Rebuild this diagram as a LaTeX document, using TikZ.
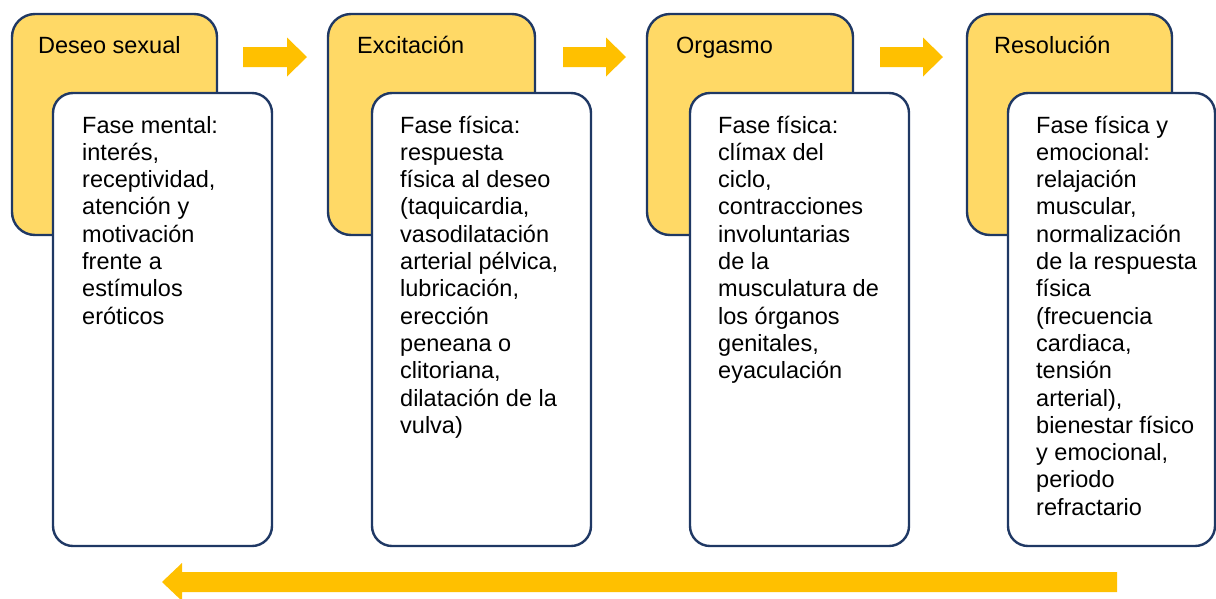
\documentclass[tikz,border=0pt]{standalone}
\usepackage{fontspec}
\setmainfont{Liberation Sans}
\definecolor{ylw}{HTML}{FFD966}
\definecolor{navy}{HTML}{1F3864}
\definecolor{arr}{HTML}{FFC000}
\newcommand{\boxfont}{\fontsize{23.5}{27.3}\selectfont}
\tikzset{
  ybox/.style={draw=navy, line width=2.4pt, fill=ylw, rounded corners=23pt, inner sep=0pt},
  wbox/.style={draw=navy, line width=2.4pt, fill=white, rounded corners=20pt, inner sep=0pt, minimum height=453pt},
  ttl/.style={anchor=base west, inner sep=0pt, font=\boxfont},
  txt/.style={anchor=base west, inner sep=0pt},
  blockarrow/.style={fill=arr, draw=none}
}
\newcommand{\txtpar}[1]{\parbox[t]{215pt}{\boxfont\raggedright #1}}
\begin{document}
\begin{tikzpicture}[x=1pt,y=-1pt]
\useasboundingbox (0,0) rectangle (1216,598);
% yellow boxes
\node[ybox, minimum width=205pt, minimum height=221pt] (y1) at (114.5,124.5) {};
\node[ybox, minimum width=207pt, minimum height=221pt] (y2) at (431.5,124.5) {};
\node[ybox, minimum width=206pt, minimum height=221pt] (y3) at (750,124.5) {};
\node[ybox, minimum width=205pt, minimum height=221pt] (y4) at (1069.5,124.5) {};
% titles
\node[ttl] (t1) at (38,53) {Deseo sexual};
\node[ttl] (t2) at (357,53) {Excitación};
\node[ttl] (t3) at (676,53) {Orgasmo};
\node[ttl] (t4) at (994,53) {Resolución};
% white boxes
\node[wbox, minimum width=219pt] (w1) at (162.5,319.5) {};
\node[wbox, minimum width=219pt] (w2) at (481.5,319.5) {};
\node[wbox, minimum width=219pt] (w3) at (799.5,319.5) {};
\node[wbox, minimum width=207pt] (w4) at (1111.5,319.5) {};
% texts
\node[txt] (d1) at (82,133) {\txtpar{Fase mental:\\interés,\\receptividad,\\atención y\\motivación\\frente a\\estímulos\\eróticos}};
\node[txt] (d2) at (400,133) {\txtpar{Fase física:\\respuesta\\física al deseo\\(taquicardia,\\vasodilatación\\arterial pélvica,\\lubricación,\\erección\\peneana o\\clitoriana,\\dilatación de la\\vulva)}};
\node[txt] (d3) at (718,133) {\txtpar{Fase física:\\clímax del\\ciclo,\\contracciones\\involuntarias\\de la\\musculatura de\\los órganos\\genitales,\\eyaculación}};
\node[txt] (d4) at (1036,133) {\txtpar{Fase física y\\emocional:\\relajación\\muscular,\\normalización\\de la respuesta\\física\\(frecuencia\\cardiaca,\\tensión\\arterial),\\bienestar físico\\y emocional,\\periodo\\refractario}};
% right block arrows
\fill[blockarrow] (243,47) -- (287,47) -- (287,37.5) -- (307,57) -- (287,76.5) -- (287,67) -- (243,67) -- cycle;
\fill[blockarrow] (563,47) -- (606,47) -- (606,37.5) -- (626,57) -- (606,76.5) -- (606,67) -- (563,67) -- cycle;
\fill[blockarrow] (880,47) -- (923,47) -- (923,37.5) -- (943,57) -- (923,76.5) -- (923,67) -- (880,67) -- cycle;
% bottom return arrow
\fill[blockarrow] (1117,572) -- (182,572) -- (182,563) -- (162,582) -- (182,601) -- (182,592) -- (1117,592) -- cycle;
\end{tikzpicture}
\end{document}
